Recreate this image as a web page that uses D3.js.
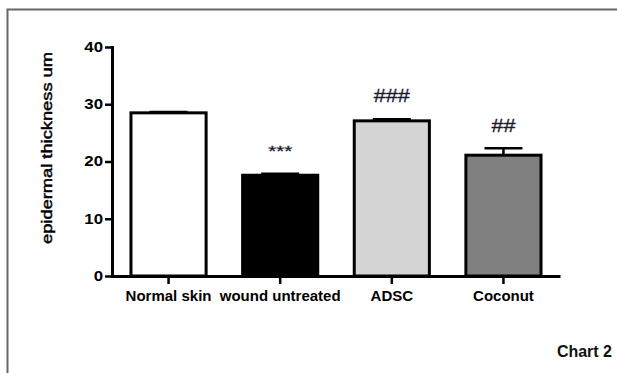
<!DOCTYPE html>
<html><head><meta charset="utf-8">
<script src="https://cdn.jsdelivr.net/npm/d3@7"></script>
<style>body{margin:0;background:#fff}svg{display:block}</style>
</head><body>
<script>
const categories = ["Normal skin", "wound untreated", "ADSC", "Coconut"];
const means = [28.5, 17.6, 27.1, 21.1];
const errors = [0.15, 0.25, 0.3, 1.2];
const marks = ["", "***", "###", "##"];
const fills = ["#ffffff", "#000000", "#d4d4d4", "#808080"];
const yTicks = [0, 10, 20, 30, 40];
const yTitle = "epidermal thickness um";
const caption = "Chart 2";

const W = 617, H = 373;
const svg = d3.select("body").append("svg").attr("width", W).attr("height", H);
svg.append("rect").attr("width", W).attr("height", H).attr("fill", "#fff");

// frame
svg.append("path").attr("d", "M7.5,373 V9.5 H617").attr("fill", "none")
  .attr("stroke", "#666").attr("stroke-width", 2);

const y = d3.scaleLinear().domain([0, 40]).range([276, 47]);
const x = d3.scaleBand().domain(categories).range([112, 560]).paddingInner(0.327).paddingOuter(0.17);

const g = svg.append("g");
// bars
g.selectAll("rect.bar").data(categories).join("rect").attr("class", "bar")
  .attr("x", d => x(d)).attr("width", x.bandwidth())
  .attr("y", (d, i) => y(means[i])).attr("height", (d, i) => y(0) - y(means[i]))
  .attr("fill", (d, i) => fills[i]).attr("stroke", "#000").attr("stroke-width", 3);

// error bars
const cap = 38;
categories.forEach((d, i) => {
  const cx = x(d) + x.bandwidth() / 2;
  g.append("line").attr("x1", cx).attr("x2", cx).attr("y1", y(means[i])).attr("y2", y(means[i] + errors[i]))
    .attr("stroke", "#000").attr("stroke-width", 2.5);
  g.append("line").attr("x1", cx - cap / 2).attr("x2", cx + cap / 2)
    .attr("y1", y(means[i] + errors[i])).attr("y2", y(means[i] + errors[i]))
    .attr("stroke", "#000").attr("stroke-width", 2.5);
});

// significance marks
const markSize = {"***": [14, 24, 156], "###": [18, 36, 102], "##": [18, 24, 132]};
categories.forEach((d, i) => {
  if (!marks[i]) return;
  const cx = x(d) + x.bandwidth() / 2;
  const m = markSize[marks[i]];
  svg.append("text").attr("x", cx).attr("y", m[2]).attr("text-anchor", "middle")
    .attr("font-family", "Liberation Sans, Arial, sans-serif").attr("font-size", m[0])
    .attr("textLength", m[1]).attr("lengthAdjust", "spacingAndGlyphs")
    .attr("fill", "#1a1a2a").attr("stroke", "#1a1a2a").attr("stroke-width", 0.3).text(marks[i]);
});

// y axis
const ya = svg.append("g").attr("transform", "translate(112,0)")
  .call(d3.axisLeft(y).tickValues(yTicks).tickSize(7).tickSizeOuter(0).tickPadding(2));
ya.select(".domain").attr("stroke-width", 3).attr("stroke-linecap", "square");
ya.selectAll(".tick line").attr("stroke-width", 2.5);
ya.selectAll(".tick text").attr("font-family", "Liberation Sans, Arial, sans-serif")
  .attr("font-size", 14).attr("font-weight", "bold").attr("fill", "#000")
  .each(function () { const w = this.getComputedTextLength(); d3.select(this).attr("textLength", w * 1.2).attr("lengthAdjust", "spacingAndGlyphs"); });

// x axis
const xa = svg.append("g").attr("transform", "translate(0,276)")
  .call(d3.axisBottom(x).tickSize(8).tickSizeOuter(0).tickPadding(6));
xa.select(".domain").attr("stroke-width", 3);
xa.selectAll(".tick line").attr("stroke-width", 2.5);
xa.selectAll(".tick text").attr("font-family", "Liberation Sans, Arial, sans-serif")
  .attr("font-size", 15).attr("font-weight", "bold").attr("fill", "#000");

// y title
svg.append("text").attr("transform", "translate(52,148) rotate(-90)").attr("text-anchor", "middle")
  .attr("font-family", "Liberation Sans, Arial, sans-serif").attr("font-size", 14)
  .attr("textLength", 192).attr("lengthAdjust", "spacingAndGlyphs").attr("fill", "#000")
  .attr("stroke", "#000").attr("stroke-width", 0.45).text(yTitle);

// caption
svg.append("text").attr("x", 612).attr("y", 357).attr("text-anchor", "end")
  .attr("font-family", "Liberation Sans, Arial, sans-serif").attr("font-size", 16).attr("font-weight", "bold")
  .attr("fill", "#111").text(caption);
</script>
</body></html>
